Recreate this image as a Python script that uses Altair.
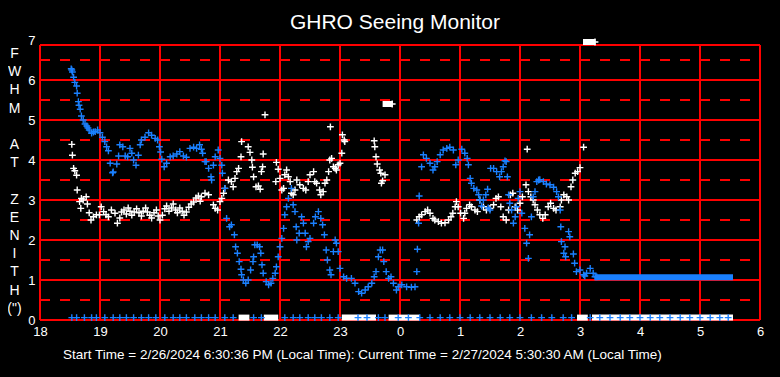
import altair as alt
import pandas as pd
import jinja2
from altair.utils import html as alt_html

# ---------------- text ----------------
TITLE = "GHRO Seeing Monitor"
FOOTER = "Start Time = 2/26/2024 6:30:36 PM (Local Time): Current Time = 2/27/2024 5:30:30 AM (Local Time)"
# vertical axis title, one letter per line, in three words
YTITLE_WORDS = [["F", "W", "H", "M"], ["A", "T"], ["Z", "E", "N", "I", "T", "H", "(\")"]]
YTITLE_WORD_START_LINE = [0, 5, 8]

# ---------------- axes / grid ----------------
X_TICKS = [18, 19, 20, 21, 22, 23, 24, 25, 26, 27, 28, 29, 30]
Y_TICKS = [0, 1, 2, 3, 4, 5, 6, 7]
SOLID_LEVELS = [0, 1, 2, 3, 4, 5, 6, 6.875]
DASH_LEVELS = [0.5, 1.5, 2.5, 3.5, 4.5, 5.5, 6.5]
FRAME_TOP = 6.875

# ---------------- blue series (hours since midnight of start day, FWHM) ----------------
blue_hours = [
    18.52, 18.53, 18.54, 18.56, 18.58, 18.61, 18.62, 18.64, 18.65, 18.67, 18.69, 18.72, 18.75, 18.78,
    18.80, 18.82, 18.86, 18.89, 18.92, 18.96, 19.00, 19.04, 19.08, 19.11, 19.14, 19.17, 19.21, 19.22,
    19.28, 19.31, 19.33, 19.38, 19.42, 19.46, 19.50, 19.53, 19.56, 19.60, 19.64, 19.67, 19.69, 19.75,
    19.81, 19.86, 19.92, 19.96, 19.99, 20.01, 20.03, 20.07, 20.11, 20.17, 20.22, 20.28, 20.33, 20.39,
    20.44, 20.50, 20.56, 20.61, 20.66, 20.69, 20.71, 20.75, 20.77, 20.81, 20.85, 20.86, 20.89, 20.92,
    20.97, 21.00, 21.03, 21.04, 21.08, 21.11, 21.16, 21.19, 21.24, 21.26, 21.29, 21.32, 21.35, 21.36,
    21.39, 21.43, 21.47, 21.51, 21.55, 21.56, 21.58, 21.62, 21.66, 21.68, 21.70, 21.72, 21.77, 21.81,
    21.85, 21.88, 21.92, 21.94, 21.97, 22.00, 22.03, 22.06, 22.08, 22.11, 22.14, 22.19, 22.22, 22.25,
    22.27, 22.28, 22.32, 22.36, 22.39, 22.42, 22.44, 22.47, 22.50, 22.56, 22.59, 22.64, 22.68, 22.71,
    22.74, 22.77, 22.79, 22.83, 22.85, 22.89, 22.92, 22.94, 22.97, 23.00, 23.06, 23.11, 23.19, 23.25,
    23.31, 23.36, 23.42, 23.47, 23.53, 23.57, 23.60, 23.64, 23.67, 23.71, 23.73, 23.77, 23.81, 23.85,
    23.89, 23.94, 23.97, 24.03, 24.11, 24.19, 24.25, 24.28, 24.29, 24.31, 24.32, 24.36, 24.39, 24.44,
    24.50, 24.55, 24.58, 24.62, 24.67, 24.72, 24.78, 24.83, 24.89, 24.93, 24.97, 25.03, 25.08, 25.12,
    25.14, 25.17, 25.19, 25.23, 25.28, 25.31, 25.33, 25.36, 25.39, 25.43, 25.46, 25.47, 25.50, 25.51,
    25.56, 25.61, 25.66, 25.69, 25.72, 25.75, 25.77, 25.79, 25.81, 25.83, 25.86, 25.89, 25.92, 25.94,
    25.97, 26.00, 26.03, 26.08, 26.11, 26.14, 26.16, 26.19, 26.22, 26.25, 26.28, 26.31, 26.33, 26.39,
    26.44, 26.50, 26.56, 26.61, 26.64, 26.67, 26.68, 26.69, 26.73, 26.75, 26.76, 26.81, 26.83, 26.89,
    26.91, 26.94, 27.00, 27.06, 27.08, 27.11, 27.17, 27.22, 27.25, 27.28,
]
blue_fwhm = [
    6.28, 6.25, 6.20, 6.07, 5.94, 5.85, 5.67, 5.46, 5.37, 5.27, 5.10, 5.00, 4.90, 4.85,
    4.80, 4.75, 4.67, 4.70, 4.71, 4.75, 4.68, 4.57, 4.46, 4.33, 4.23, 3.92, 3.68, 3.70,
    3.90, 4.10, 4.38, 4.33, 4.10, 4.08, 4.29, 4.17, 4.00, 3.87, 4.12, 4.38, 4.50, 4.57,
    4.68, 4.62, 4.54, 4.50, 4.33, 4.20, 4.02, 3.83, 3.92, 4.08, 4.10, 4.15, 4.21, 4.10,
    4.07, 4.29, 4.32, 4.29, 4.38, 4.27, 4.17, 3.96, 3.96, 3.79, 3.58, 3.50, 3.87, 4.08,
    4.25, 4.04, 3.87, 3.67, 3.29, 2.54, 2.33, 2.38, 2.13, 1.83, 1.67, 1.46, 1.27, 1.13,
    1.00, 0.92, 1.00, 1.25, 1.46, 1.58, 1.88, 1.88, 1.83, 1.67, 1.38, 1.17, 0.96, 0.88,
    0.92, 1.04, 1.17, 1.33, 1.58, 1.83, 2.04, 2.29, 2.63, 2.83, 3.04, 3.29, 2.88, 2.71,
    2.33, 2.00, 2.17, 2.58, 2.42, 2.17, 1.83, 1.96, 2.04, 2.42, 2.58, 2.71, 2.54, 2.38,
    2.13, 1.75, 1.50, 1.25, 1.13, 1.71, 2.00, 1.92, 1.71, 1.29, 1.08, 1.04, 1.04, 0.92,
    0.71, 0.67, 0.75, 0.83, 0.92, 1.08, 1.21, 1.58, 1.75, 1.75, 1.46, 1.21, 1.04, 1.08,
    0.92, 0.75, 0.83, 0.88, 0.83, 0.82, 0.83, 1.21, 1.77, 2.42, 3.10, 3.83, 4.13, 4.04,
    3.92, 3.75, 3.83, 3.96, 4.13, 4.25, 4.29, 4.32, 4.25, 3.88, 4.00, 4.27, 4.17, 4.04,
    3.88, 3.54, 3.42, 3.29, 3.25, 3.13, 3.00, 2.85, 3.00, 3.13, 3.27, 2.80, 2.75, 3.79,
    3.79, 3.71, 3.58, 3.71, 3.83, 3.98, 3.96, 3.58, 3.13, 2.92, 2.75, 2.42, 2.58, 2.83,
    3.04, 3.21, 2.67, 2.29, 1.92, 1.54, 2.13, 2.58, 3.08, 3.21, 3.46, 3.50, 3.51, 3.46,
    3.40, 3.38, 3.32, 3.21, 3.08, 2.75, 2.33, 1.96, 1.67, 1.83, 1.58, 2.21, 2.08, 1.65,
    1.42, 1.21, 1.25, 1.13, 1.10, 1.17, 1.29, 1.17, 1.08, 1.08,
]

# blue readings of zero along the bottom
blue_zero_hours = [
    18.53, 18.61, 18.74, 18.86, 18.94, 19.08, 19.22, 19.33, 19.44, 19.56, 19.69, 19.81, 19.93,
    20.08, 20.22, 20.33, 20.44, 20.58, 20.69, 20.81, 20.92, 21.08, 21.22, 21.56, 21.69,
    22.08, 22.22, 22.33, 22.47, 22.58, 22.69, 22.83, 22.97, 23.30, 23.45, 23.64, 23.75,
    23.97, 24.14, 24.33, 24.50, 24.67, 24.83, 25.00, 25.17, 25.33, 25.50, 25.67, 25.83,
    26.00, 26.19, 26.36, 26.53, 26.72, 26.86, 27.17, 27.33, 27.50, 27.67, 27.83, 28.00,
    28.17, 28.33, 28.50, 28.67, 28.83, 29.00, 29.17, 29.33, 29.47,
]
ZERO_LEVEL = 0.06

# dense runs of blue readings (start hour, end hour, level)
blue_run_start = [27.30]
blue_run_end = [29.50]
blue_run_level = [1.07]

# ---------------- white series ----------------
white_hours = [
    18.53, 18.54, 18.56, 18.58, 18.61, 18.62, 18.66, 18.68, 18.69, 18.72, 18.77, 18.79, 18.82, 18.85,
    18.89, 18.94, 18.99, 19.02, 19.06, 19.10, 19.14, 19.19, 19.25, 19.29, 19.33, 19.36, 19.40, 19.44,
    19.47, 19.50, 19.53, 19.57, 19.61, 19.65, 19.69, 19.72, 19.76, 19.79, 19.83, 19.86, 19.90, 19.94,
    19.97, 20.00, 20.04, 20.08, 20.11, 20.15, 20.19, 20.22, 20.26, 20.29, 20.33, 20.37, 20.40, 20.44,
    20.48, 20.52, 20.56, 20.60, 20.64, 20.67, 20.69, 20.75, 20.81, 20.89, 20.92, 20.96, 21.00, 21.03,
    21.06, 21.08, 21.14, 21.19, 21.22, 21.25, 21.28, 21.31, 21.35, 21.36, 21.47, 21.50, 21.53, 21.54,
    21.56, 21.60, 21.64, 21.67, 21.69, 21.71, 21.72, 21.75, 21.93, 21.94, 21.97, 22.00, 22.03, 22.06,
    22.08, 22.11, 22.14, 22.17, 22.19, 22.22, 22.25, 22.28, 22.33, 22.39, 22.43, 22.47, 22.50, 22.56,
    22.58, 22.61, 22.66, 22.68, 22.72, 22.75, 22.78, 22.81, 22.83, 22.84, 22.86, 22.89, 22.92, 22.94,
    22.97, 23.00, 23.03, 23.04, 23.07, 23.08, 23.57, 23.58, 23.60, 23.62, 23.66, 23.68, 23.69, 23.71,
    23.75, 23.87, 24.28, 24.32, 24.36, 24.42, 24.46, 24.50, 24.55, 24.58, 24.64, 24.69, 24.75, 24.81,
    24.85, 24.88, 24.92, 24.94, 24.97, 25.01, 25.06, 25.08, 25.11, 25.16, 25.19, 25.25, 25.29, 25.33,
    25.39, 25.44, 25.50, 25.56, 25.60, 25.64, 25.68, 25.72, 25.77, 25.81, 25.84, 25.88, 25.92, 25.96,
    26.00, 26.04, 26.10, 26.12, 26.14, 26.18, 26.22, 26.25, 26.29, 26.33, 26.38, 26.42, 26.47, 26.51,
    26.56, 26.60, 26.67, 26.69, 26.73, 26.78, 26.81, 26.85, 26.88, 26.92, 26.96, 27.00, 27.06, 27.25,
]
white_fwhm = [
    4.39, 4.12, 3.79, 3.73, 3.62, 3.25, 2.96, 2.79, 3.04, 3.00, 3.08, 2.90, 2.68, 2.50,
    2.58, 2.63, 2.63, 2.83, 2.71, 2.63, 2.58, 2.75, 2.67, 2.42, 2.55, 2.70, 2.75, 2.65,
    2.80, 2.72, 2.62, 2.70, 2.78, 2.68, 2.60, 2.72, 2.80, 2.70, 2.62, 2.55, 2.68, 2.75,
    2.60, 2.50, 2.62, 2.78, 2.85, 2.72, 2.80, 2.90, 2.75, 2.68, 2.80, 2.72, 2.62, 2.70,
    2.82, 2.90, 2.95, 3.05, 3.10, 2.97, 3.08, 3.17, 3.13, 2.88, 2.79, 2.75, 2.96, 3.04,
    3.17, 3.29, 3.50, 3.46, 3.33, 3.54, 3.71, 3.79, 4.08, 4.46, 4.33, 4.19, 4.00, 3.82,
    3.58, 3.33, 3.35, 3.27, 3.71, 3.83, 4.15, 5.13, 3.46, 3.94, 3.77, 3.54, 3.25, 3.29,
    3.63, 3.75, 3.58, 3.46, 3.17, 3.13, 3.25, 3.50, 3.38, 3.29, 3.25, 3.46, 3.63, 3.71,
    3.46, 3.42, 3.25, 3.13, 3.21, 3.42, 3.50, 3.71, 4.00, 4.83, 4.04, 3.83, 3.79, 3.75,
    3.88, 3.92, 4.17, 4.63, 4.50, 4.46, 4.48, 4.33, 4.08, 3.90, 3.75, 3.67, 3.42, 3.48,
    3.63, 5.40, 2.50, 2.58, 2.63, 2.71, 2.75, 2.67, 2.54, 2.50, 2.46, 2.42, 2.43, 2.50,
    2.58, 2.67, 2.83, 2.96, 2.83, 2.67, 2.54, 2.67, 2.79, 2.88, 2.83, 2.75, 2.71, 3.00,
    2.83, 2.75, 2.79, 2.88, 3.04, 3.08, 2.83, 2.58, 2.50, 2.75, 3.13, 3.17, 2.83, 2.75,
    2.92, 3.08, 3.38, 4.27, 3.21, 3.08, 3.00, 2.88, 2.75, 2.63, 2.54, 2.63, 2.83, 2.92,
    2.79, 2.75, 2.83, 3.00, 3.13, 3.08, 3.00, 3.33, 3.50, 3.67, 3.71, 3.81, 4.32, 6.95,
]

# dense runs of white readings (start hour, end hour, level)
white_run_start = [21.36, 21.78, 23.08, 23.76, 23.86, 27.00, 27.10, 27.25]
white_run_end = [21.44, 21.92, 23.55, 23.83, 24.28, 27.08, 27.21, 29.50]
white_run_level = [0.06, 0.06, 0.06, 5.40, 0.06, 0.06, 6.95, 0.06]

# ---------------- styling ----------------
RED = "#FF0000"
BLUE = "#1A80FF"
WHITE = "#FFFFFF"
FONT = "Liberation Sans"
PLUS = "M-1,0L1,0M0,-1L0,1"
YTITLE_LINE_HEIGHT = 18.2

xscale = alt.Scale(domain=[18, 30], nice=False, zero=False)
yscale = alt.Scale(domain=[0, 7], nice=False, zero=True)
xaxis = alt.Axis(values=X_TICKS, labelExpr="'' + (datum.value % 24)", title=None, domain=False,
                 ticks=False, grid=False, labelColor=WHITE, labelFont=FONT, labelFontSize=13,
                 labelPadding=5, labelFlush=False)
yaxis = alt.Axis(values=Y_TICKS, title=None, domain=False, ticks=False, grid=False,
                 labelColor=WHITE, labelFont=FONT, labelFontSize=13, labelPadding=5,
                 labelBaseline="middle", labelFlush=False)


def X(f):
    return alt.X(f, type="quantitative", scale=xscale, axis=xaxis)


def Y(f):
    return alt.Y(f, type="quantitative", scale=yscale, axis=yaxis)


vgrid = pd.DataFrame({"h": X_TICKS, "ylo": [0] * len(X_TICKS), "yhi": [FRAME_TOP] * len(X_TICKS)})
hgrid = pd.DataFrame({"lvl": SOLID_LEVELS, "xlo": [18] * len(SOLID_LEVELS), "xhi": [30] * len(SOLID_LEVELS)})
dgrid = pd.DataFrame({"lvl": DASH_LEVELS, "xlo": [18] * len(DASH_LEVELS), "xhi": [30] * len(DASH_LEVELS)})

v_layer = alt.Chart(vgrid).mark_rule(color=RED, strokeWidth=2).encode(
    x=X("h"), y=Y("ylo"), y2=alt.Y2("yhi"))
h_layer = alt.Chart(hgrid).mark_rule(color=RED, strokeWidth=2).encode(
    x=X("xlo"), x2=alt.X2("xhi"), y=Y("lvl"))
d_layer = alt.Chart(dgrid).mark_rule(color=RED, strokeWidth=2, strokeDash=[10, 10]).encode(
    x=X("xlo"), x2=alt.X2("xhi"), y=Y("lvl"))

white_df = pd.DataFrame({"h": white_hours, "v": white_fwhm})
blue_df = pd.DataFrame({"h": blue_hours, "v": blue_fwhm})
bzero_df = pd.DataFrame({"h": blue_zero_hours, "v": [ZERO_LEVEL] * len(blue_zero_hours)})
wrun_df = pd.DataFrame({"s": white_run_start, "e": white_run_end, "v": white_run_level})
brun_df = pd.DataFrame({"s": blue_run_start, "e": blue_run_end, "v": blue_run_level})

pt = dict(shape=PLUS, filled=False, strokeWidth=1.4, size=46, opacity=1)

wrun_layer = alt.Chart(wrun_df).mark_rule(color=WHITE, strokeWidth=6, strokeCap="square").encode(
    x=X("s"), x2=alt.X2("e"), y=Y("v"))
white_layer = alt.Chart(white_df).mark_point(color=WHITE, **pt).encode(x=X("h"), y=Y("v"))
brun_layer = alt.Chart(brun_df).mark_rule(color=BLUE, strokeWidth=6, strokeCap="square").encode(
    x=X("s"), x2=alt.X2("e"), y=Y("v"))
blue_layer = alt.Chart(blue_df).mark_point(color=BLUE, **pt).encode(x=X("h"), y=Y("v"))
bzero_layer = alt.Chart(bzero_df).mark_point(color=BLUE, **pt).encode(x=X("h"), y=Y("v"))

title_layer = alt.Chart(pd.DataFrame({"t": [TITLE]})).mark_text(
    color=WHITE, font=FONT, fontSize=21, align="center", baseline="alphabetic").encode(
    x=alt.value(355), y=alt.value(-11), text="t:N")
footer_layer = alt.Chart(pd.DataFrame({"t": [FOOTER]})).mark_text(
    color=WHITE, font=FONT, fontSize=13.5, align="left", baseline="alphabetic").encode(
    x=alt.value(23), y=alt.value(319), text="t:N")

ytitle_layers = []
for word, start in zip(YTITLE_WORDS, YTITLE_WORD_START_LINE):
    ytitle_layers.append(
        alt.Chart(pd.DataFrame({"t": [0]})).mark_text(
            color=WHITE, font=FONT, fontSize=14, align="center", baseline="alphabetic",
            lineHeight=YTITLE_LINE_HEIGHT).encode(
            x=alt.value(-25.5), y=alt.value(18 + start * YTITLE_LINE_HEIGHT), text=alt.value(word))
    )

chart = alt.layer(
    v_layer, h_layer, d_layer, wrun_layer, white_layer, brun_layer, blue_layer, bzero_layer,
    title_layer, footer_layer, *ytitle_layers,
).properties(
    width=720, height=280,
    autosize=alt.AutoSizeParams(type="none"),
    padding={"left": 32, "top": 32, "right": 10, "bottom": 45},
    background="black",
).configure_view(stroke=None)


# page template: the standard one, with a black page background
_std = getattr(alt_html, "TEMPLATES", {}).get("standard", getattr(alt_html, "HTML_TEMPLATE", None))


class BlackPageTemplate(jinja2.Template):
    def render(self, *args, **kwargs):
        out = _std.render(*args, **kwargs)
        css = "html, body { background: #000000; }\n"
        if "<style>" in out:
            return out.replace("<style>", "<style>\n    " + css, 1)
        return out.replace("<div", "<style>" + css + "</style>\n<div", 1)


try:
    chart.save("out.html", embed_options={"renderer": "svg", "actions": False},
               template=BlackPageTemplate(""))
except Exception:
    chart.save("out.html", embed_options={"renderer": "svg", "actions": False})
